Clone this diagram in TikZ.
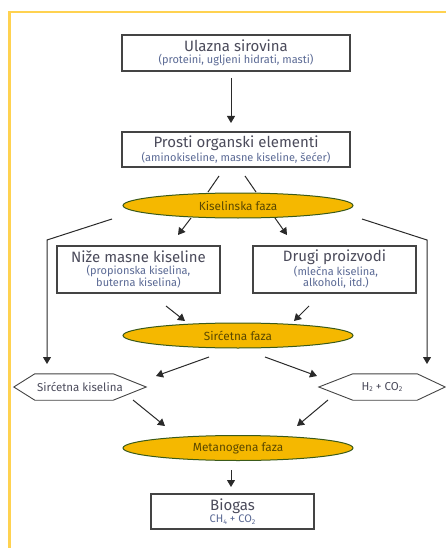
\documentclass[tikz,border=0pt]{standalone}
\usepackage{fontspec}
\setmainfont{Fira Sans}
\usetikzlibrary{shapes.geometric,arrows.meta}
\definecolor{framecol}{HTML}{FFD250}
\definecolor{boxline}{HTML}{444444}
\definecolor{titlecol}{HTML}{4B4B5B}
\definecolor{subcol}{HTML}{5B6A95}
\definecolor{ellfill}{HTML}{F5B800}
\definecolor{elldraw}{HTML}{3A5A1A}
\definecolor{elltext}{HTML}{5A4800}
\definecolor{arrcol}{HTML}{2A2A2A}
\tikzset{
  box/.style={draw=boxline, line width=1.2pt, rectangle, inner sep=0pt, align=center, fill=white, font=\fontsize{11}{11.5}\selectfont},
  phase/.style={ellipse, draw=elldraw, line width=1pt, fill=ellfill, minimum width=230pt, minimum height=25pt, inner sep=0pt, text=elltext, font=\fontsize{11.8}{12}\selectfont},
  hexbox/.style={rectangle, draw=none, inner sep=0pt, text=titlecol, font=\fontsize{11.5}{12}\selectfont},
  hexline/.style={draw=boxline, line width=0.9pt},
  arr/.style={draw=arrcol, line width=1pt, -{Triangle[length=7pt,width=8pt]}},
  lin/.style={draw=arrcol, line width=1pt},
}
\newcommand{\ttlt}[1]{{\fontsize{15}{14}\selectfont\color{titlecol}#1}}
\newcommand{\subt}[1]{{\fontsize{11}{11}\selectfont\color{subcol}#1}}
\newcommand{\lowsub}[1]{\raisebox{-1.5pt}{\fontsize{7}{7}\selectfont #1}}
\begin{document}
\begin{tikzpicture}[x=1pt,y=-1pt]
\useasboundingbox (0,0) rectangle (446,548);
% frame
\draw[framecol, line width=2.6pt] (9.5,548) -- (9.5,12) -- (446,12);

% boxes
\node[box, minimum width=228pt, minimum height=36pt] (b1) at (236,53)
  {\ttlt{Ulazna sirovina}\\[0.5pt]\subt{(proteini, ugljeni hidrati, masti)}};
\node[box, minimum width=228pt, minimum height=35pt] (b2) at (236,149.5)
  {\ttlt{Prosti organski elementi}\\[0.5pt]\subt{(aminokiseline, masne kiseline, šećer)}};
\node[phase] (e1) at (238,205.5) {Kiselinska faza};
\node[box, minimum width=163pt, minimum height=47pt] (b3) at (138.5,269.5)
  {\ttlt{Niže masne kiseline}\\[0.5pt]\subt{(propionska kiselina,}\\[-0.5pt]\subt{buterna kiselina)}};
\node[box, minimum width=163pt, minimum height=47pt] (b4) at (334.5,269.5)
  {\ttlt{Drugi proizvodi}\\[0.5pt]\subt{\ (mlečna kiselina,}\\[-0.5pt]\subt{\ alkoholi, itd.)}};
\node[phase] (e2) at (238,335.5) {Sirćetna faza};
\node[hexbox, minimum width=132pt, minimum height=26pt] (h1) at (80,387) {Sirćetna kiselina};
\node[hexbox, minimum width=126pt, minimum height=26pt] (h2) at (382,387) {H\lowsub{2} + CO\lowsub{2}};
\draw[hexline] (h1.west) -- ([xshift=21pt]h1.north west) -- ([xshift=-33pt]h1.north east) -- (h1.east) -- ([xshift=-33pt]h1.south east) -- ([xshift=21pt]h1.south west) -- cycle;
\draw[hexline] (h2.west) -- ([xshift=34pt]h2.north west) -- ([xshift=-28pt]h2.north east) -- (h2.east) -- ([xshift=-28pt]h2.south east) -- ([xshift=34pt]h2.south west) -- cycle;
\node[phase] (e3) at (238,448) {Metanogena faza};
\node[box, minimum width=163pt, minimum height=35pt] (b5) at (232.5,511.5)
  {\ttlt{Biogas}\\[0.5pt]\subt{CH\lowsub{4} + CO\lowsub{2}}};

% connector coordinates
\coordinate (c1a) at (231,78);  \coordinate (c1b) at (231,123);
\coordinate (l1a) at (219,176); \coordinate (l1b) at (208,192);
\coordinate (l2a) at (245,176); \coordinate (l2b) at (256,192);
\coordinate (lo1) at (112,219); \coordinate (lo2) at (47,240); \coordinate (lo3) at (47,364);
\coordinate (ro1) at (362,219); \coordinate (ro2) at (427,240); \coordinate (ro3) at (427,364);
\coordinate (d1a) at (191,218); \coordinate (d1b) at (178,235);
\coordinate (d2a) at (275,218); \coordinate (d2b) at (287,235);
\coordinate (s1a) at (166,306); \coordinate (s1b) at (185,321);
\coordinate (s2a) at (309,306); \coordinate (s2b) at (294,321);
\coordinate (t1a) at (209,357); \coordinate (t1b) at (156,376);
\coordinate (t2a) at (265,357); \coordinate (t2b) at (317,376);
\coordinate (u1a) at (133,400); \coordinate (u1b) at (165,426);
\coordinate (u2a) at (328,400); \coordinate (u2b) at (297,426);
\coordinate (v1a) at (231,470); \coordinate (v1b) at (231,487);

\draw[arr] (c1a) -- (c1b);
\draw[lin] (l1a) -- (l1b);
\draw[lin] (l2a) -- (l2b);
\draw[arr] (lo1) -- (lo2) -- (lo3);
\draw[arr] (ro1) -- (ro2) -- (ro3);
\draw[arr] (d1a) -- (d1b);
\draw[arr] (d2a) -- (d2b);
\draw[arr] (s1a) -- (s1b);
\draw[arr] (s2a) -- (s2b);
\draw[arr] (t1a) -- (t1b);
\draw[arr] (t2a) -- (t2b);
\draw[arr] (u1a) -- (u1b);
\draw[arr] (u2a) -- (u2b);
\draw[arr] (v1a) -- (v1b);
\end{tikzpicture}
\end{document}
